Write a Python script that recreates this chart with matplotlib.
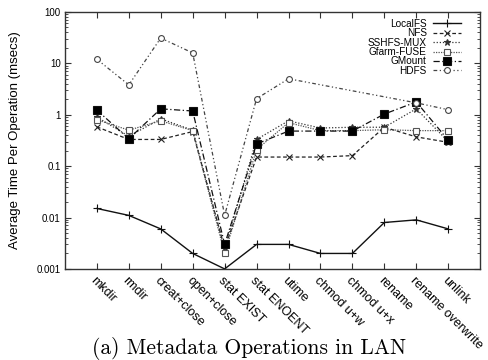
import matplotlib
matplotlib.use("Agg")
import matplotlib.pyplot as plt
import numpy as np

ops = ["mkdir", "rmdir", "creat+close", "open+close", "stat EXIST", "stat ENOENT",
       "utime", "chmod u+w", "chmod u+x", "rename", "rename overwrite", "unlink"]

localfs = [0.015, 0.011, 0.006, 0.002, 0.001, 0.003, 0.003, 0.002, 0.002, 0.008, 0.009, 0.006]
nfs = [0.58, 0.33, 0.33, 0.47, 0.0025, 0.15, 0.15, 0.15, 0.16, 0.57, 0.37, 0.29]
sshfs = [0.9, 0.38, 0.83, 0.5, 0.0025, 0.33, 0.76, 0.55, 0.57, 0.57, 1.3, 0.3]
gfarm = [0.8, 0.5, 0.76, 0.49, 0.002, 0.21, 0.7, 0.49, 0.49, 0.51, 0.49, 0.49]
gmount = [1.23, 0.34, 1.3, 1.18, 0.003, 0.27, 0.48, 0.48, 0.48, 1.03, 1.77, 0.32]
hdfs = [12.0, 3.8, 31.0, 15.9, 0.011, 2.05, 5.0, None, None, None, 1.7, 1.25]

series = [
    ("LocalFS", localfs, dict(ls="-", marker="+", ms=6, mfc="none", color="#111111", lw=1.0)),
    ("NFS", nfs, dict(ls=(0, (3, 2)), marker="x", ms=4.5, mfc="none", color="#222222", lw=0.9)),
    ("SSHFS-MUX", sshfs, dict(ls=(0, (1, 1.5)), marker="*", ms=5, color="#333333", lw=0.9)),
    ("Gfarm-FUSE", gfarm, dict(ls=(0, (1, 1)), marker="s", ms=4.5, mfc="white", color="#555555", lw=0.9)),
    ("GMount", gmount, dict(ls=(0, (5, 2, 1, 2)), marker="s", ms=5.5, mfc="black", color="#111111", lw=0.9)),
    ("HDFS", hdfs, dict(ls=(0, (3, 2, 1, 2, 1, 2)), marker="o", ms=4.2, mfc="white", color="#444444", lw=0.9)),
]

fig = plt.figure(figsize=(4.88, 3.6), dpi=100)
ax = fig.add_axes([0.133, 0.253, 0.851, 0.714])

x_all = np.arange(1, len(ops) + 1)
for name, vals, style in series:
    xs = [x for x, v in zip(x_all, vals) if v is not None]
    ys = [v for v in vals if v is not None]
    ax.plot(xs, ys, label=name, mew=0.8, **style)

ax.set_yscale("log")
ax.set_ylim(0.001, 100)
ax.set_xlim(0, len(ops) + 1)
ax.set_xticks(x_all)
ax.set_xticklabels(ops, rotation=-45, ha="left", va="top", rotation_mode="anchor",
                   fontsize=9, family="Liberation Sans")
ax.set_yticks([0.001, 0.01, 0.1, 1, 10, 100])
ax.set_yticklabels(["0.001", "0.01", "0.1", "1", "10", "100"], fontsize=7, family="Liberation Sans")
ax.set_ylabel("Average Time Per Operation (msecs)", fontsize=9.5, family="Liberation Sans")
ax.yaxis.set_label_coords(-0.105, 0.5)

ax.tick_params(axis="both", which="major", direction="in", length=4, width=0.8,
               top=True, right=True, color="#333333", pad=3)
ax.tick_params(axis="x", which="major", pad=4)
ax.tick_params(axis="y", which="minor", direction="in", length=2, width=0.6,
               left=True, right=True, color="#333333")
ax.tick_params(axis="y", which="minor", labelleft=False)
for sp in ax.spines.values():
    sp.set_linewidth(1.0)
    sp.set_color("#333333")

leg = ax.legend(loc="upper right", frameon=False, markerfirst=False,
                prop={"family": "Liberation Sans", "size": 7.2}, handlelength=2.8,
                handletextpad=0.6, labelspacing=-0.06, numpoints=1,
                borderaxespad=0.3, bbox_to_anchor=(0.97, 1.0))

fig.text(0.51, 0.016, "(a) Metadata Operations in LAN", ha="center", va="baseline",
         fontsize=15.5, family="cmr10")

fig.savefig("out.png", dpi=100)
